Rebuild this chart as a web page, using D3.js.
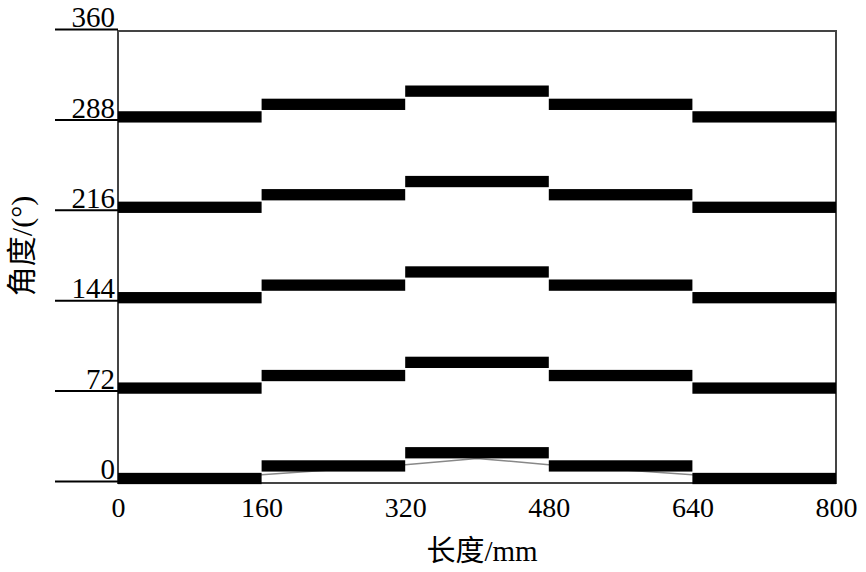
<!DOCTYPE html>
<html>
<head>
<meta charset="utf-8">
<script src="https://cdn.jsdelivr.net/npm/d3@7"></script>
<style>
  body { margin: 0; background: #fff; }
  svg { display: block; }
</style>
</head>
<body>
<svg width="866" height="572"></svg>
<script>
// segment edges along the length (mm)
var segStart = [0, 160, 320, 480, 640];
var segEnd = [160, 320, 480, 640, 800];
// base angle of each row (deg)
var baseAngles = [0, 72, 144, 216, 288];
// centre of each step above its base angle (deg)
var stepOffsets = [2, 12, 22.5, 12, 2];
// continuous curve under the lowest row
var curveX = [0, 160, 320, 400, 480, 640, 800];
var curveY = [0, 5, 13, 18, 13, 5, 0];
var xTicks = [0, 160, 320, 480, 640, 800];
var yTicks = [0, 72, 144, 216, 288, 360];

var barThick = 9; // deg

var svg = d3.select("svg");
var serif = "'Liberation Serif', 'Times New Roman', 'Noto Sans CJK SC', serif";

var x = d3.scaleLinear().domain([0, 800]).range([118, 836]);
var y = d3.scaleLinear().domain([0, 360]).range([481, 29]);

// plot frame
svg.append("rect")
    .attr("x", x(0))
    .attr("y", y(360) + 2)
    .attr("width", x(800) - x(0))
    .attr("height", y(0) - y(360))
    .attr("fill", "none")
    .attr("stroke", "#444")
    .attr("stroke-width", 2);

// grey curve
var line = d3.line()
    .x(function(d, i) { return x(curveX[i]); })
    .y(function(d) { return y(d); });

svg.append("path")
    .datum(curveY)
    .attr("fill", "none")
    .attr("stroke", "#888")
    .attr("stroke-width", 1.5)
    .attr("d", line);

// step bars
var bars = [];
baseAngles.forEach(function(b) {
    segStart.forEach(function(s, i) {
        bars.push({x0: s, x1: segEnd[i], c: b + stepOffsets[i]});
    });
});

svg.selectAll(".bar")
    .data(bars)
    .enter().append("rect")
    .attr("class", "bar")
    .attr("x", function(d) { return x(d.x0); })
    .attr("width", function(d) { return x(d.x1) - x(d.x0); })
    .attr("y", function(d) { return y(d.c + barThick / 2); })
    .attr("height", function(d) { return y(d.c - barThick / 2) - y(d.c + barThick / 2); })
    .attr("fill", "#000");

// x axis
var gx = svg.append("g")
    .attr("transform", "translate(0," + (y(0) + 2) + ")")
    .call(d3.axisBottom(x).tickValues(xTicks).tickSize(0).tickPadding(14));
gx.select(".domain").remove();
gx.selectAll("text")
    .attr("font-family", serif)
    .attr("font-size", 28)
    .attr("fill", "#000");

// y axis, long ticks with labels sitting on them
var gy = svg.append("g")
    .attr("transform", "translate(" + x(0) + ",0)")
    .call(d3.axisLeft(y).tickValues(yTicks).tickSize(63));
gy.select(".domain").remove();
gy.selectAll("line")
    .attr("stroke", "#000")
    .attr("stroke-width", 2);
gy.selectAll("text")
    .attr("x", -3)
    .attr("dy", "-0.08em")
    .attr("text-anchor", "end")
    .attr("font-family", serif)
    .attr("font-size", 29)
    .attr("fill", "#000");

// axis titles
svg.append("text")
    .attr("x", 482)
    .attr("y", 561)
    .attr("text-anchor", "middle")
    .attr("font-family", serif)
    .attr("font-size", 29)
    .text("长度/mm");

svg.append("text")
    .attr("transform", "translate(32,246) rotate(-90)")
    .attr("text-anchor", "middle")
    .attr("font-family", serif)
    .attr("font-size", 30)
    .text("角度/(°)");
</script>
</body>
</html>
